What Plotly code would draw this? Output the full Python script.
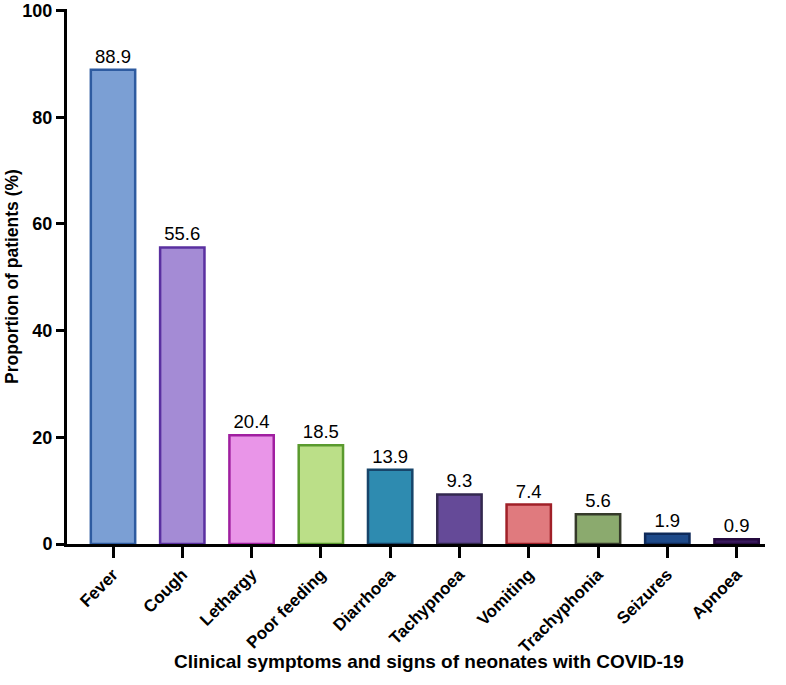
import plotly.graph_objects as go

categories = ["Fever", "Cough", "Lethargy", "Poor feeding", "Diarrhoea",
              "Tachypnoea", "Vomiting", "Trachyphonia", "Seizures", "Apnoea"]
values = [88.9, 55.6, 20.4, 18.5, 13.9, 9.3, 7.4, 5.6, 1.9, 0.9]
fill_colors = ["#7B9FD4", "#A48BD5", "#E995E8", "#BBDF88", "#2E8BB0",
               "#654A98", "#E07A7E", "#8BAA6E", "#1E4A8A", "#3A1A5E"]
line_colors = ["#2E5BA0", "#5A30A0", "#A01FA0", "#5A9A2E", "#17456A",
               "#33284F", "#A02028", "#353A2A", "#0E2A5A", "#24093E"]
y_ticks = [0, 20, 40, 60, 80, 100]

FONT = "Arial, Liberation Sans, Helvetica, sans-serif"

fig = go.Figure()
fig.add_trace(go.Bar(
    x=list(range(len(categories))),
    y=values,
    width=0.64,
    marker=dict(color=fill_colors, line=dict(color=line_colors, width=2.5)),
    text=[f"{v:.1f}" for v in values],
    textposition="outside",
    cliponaxis=False,
    textfont=dict(family=FONT, size=18.5, color="black"),
))

fig.update_layout(
    width=786, height=685,
    margin=dict(l=67, r=21, t=9, b=141),
    paper_bgcolor="white", plot_bgcolor="white",
    showlegend=False,
    font=dict(family=FONT, color="black"),
)
fig.update_xaxes(
    range=[-0.664, 9.41],
    automargin=False,
    tickmode="array", tickvals=list(range(len(categories))), ticktext=categories,
    tickangle=-45,
    tickfont=dict(family=FONT, size=17, color="black", weight="bold"),
    showline=True, linecolor="black", linewidth=3,
    ticks="outside", ticklen=11, tickwidth=2.5, tickcolor="black",
    showgrid=False, zeroline=False,
)
fig.update_yaxes(
    range=[0, 100.3],
    automargin=False,
    tickmode="array", tickvals=y_ticks,
    ticklabeloverflow="allow",
    tickfont=dict(family=FONT, size=18, color="black", weight="bold"),
    showline=True, linecolor="black", linewidth=3,
    ticks="outside", ticklen=8, tickwidth=2.5, tickcolor="black",
    showgrid=False, zeroline=False,
    title=dict(text="Proportion of patients (%)",
               font=dict(family=FONT, size=17.5, color="black", weight="bold"),
               standoff=0),
)
fig.add_annotation(
    text="Clinical symptoms and signs of neonates with COVID-19",
    xref="paper", yref="paper",
    x=(429 - 67) / 698, y=-(661 - 544) / 535,
    xanchor="center", yanchor="middle", showarrow=False,
    font=dict(family=FONT, size=19, color="black", weight="bold"),
)

fig.write_html("out.html")
